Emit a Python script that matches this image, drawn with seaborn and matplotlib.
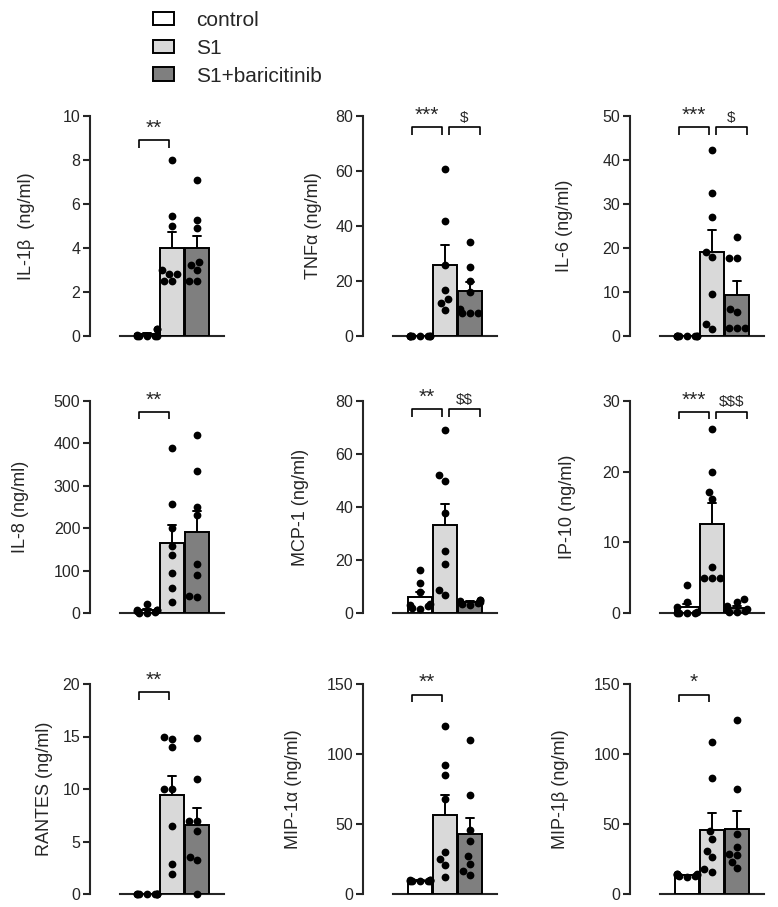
import numpy as np
import pandas as pd
import matplotlib
matplotlib.use("Agg")
import matplotlib.pyplot as plt
import seaborn as sns
from matplotlib.patches import Patch

groups = ["control", "S1", "S1+baricitinib"]
colors = ["#ffffff", "#d9d9d9", "#7f7f7f"]

# values per group: control, S1, S1+baricitinib
il1b = [[0.3, 0.3, 0.05, 0, 0, 0, 0, 0],
        [8.0, 5.47, 5.0, 3.0, 2.82, 2.82, 2.49, 2.49],
        [7.1, 5.28, 4.9, 3.35, 3.24, 3.0, 2.5, 2.5]]
tnfa = [[0, 0, 0, 0, 0, 0, 0, 0],
        [60.9, 41.9, 25.8, 16.7, 13.4, 11.9, 9.4],
        [34.3, 25.0, 20.0, 16.0, 10.0, 8.5, 8.5, 8.5]]
il6 = [[0, 0, 0, 0, 0, 0, 0, 0],
       [42.3, 32.5, 27.0, 19.2, 18.0, 9.6, 2.8, 1.5],
       [22.5, 17.8, 17.8, 6.2, 5.4, 1.9, 1.9, 1.9]]
il8 = [[22, 8, 8, 8, 5, 2, 0, 0],
       [390, 258, 200, 157, 136, 93.5, 60, 25],
       [420, 335, 250, 230, 116, 90, 41, 38]]
mcp1 = [[16.4, 11.5, 8.0, 3.5, 3.0, 2.5, 2.0, 1.5],
        [69.1, 51.9, 50.0, 37.7, 23.3, 18.5, 8.7, 6.9],
        [5.0, 4.8, 4.5, 4.2, 4.0, 3.8, 3.5, 3.2]]
ip10 = [[4.0, 1.6, 0.8, 0.1, 0, 0, 0, 0],
        [26.0, 20.0, 17.1, 16.1, 6.45, 5.0, 5.0, 5.0],
        [2.0, 1.5, 1.0, 0.6, 0.4, 0.3, 0.2, 0.1]]
rantes = [[0, 0, 0, 0, 0, 0, 0, 0],
          [15.0, 14.8, 14.0, 10.0, 10.0, 6.5, 2.9, 1.9],
          [14.9, 11.0, 7.0, 7.0, 6.0, 3.5, 3.2, 0]]
mip1a = [[10, 10, 9.8, 9.5, 9.5, 9.3, 9.2, 9.0],
         [119.7, 92, 85, 68, 30, 25.3, 20.8, 12],
         [110, 70.7, 46, 38.2, 27, 21.7, 16.2, 13.9]]
mip1b = [[14.5, 14, 14, 13.5, 13.5, 13, 13, 12.5],
         [108.7, 82.6, 44.9, 39.6, 31, 26.5, 17.9, 15.8],
         [124.4, 74.8, 43.2, 33.7, 28.9, 27.7, 22.9, 18.6]]

labels = ["IL-1β  (ng/ml)", "TNFα (ng/ml)", "IL-6 (ng/ml)",
          "IL-8 (ng/ml)", "MCP-1 (ng/ml)", "IP-10 (ng/ml)",
          "RANTES (ng/ml)", "MIP-1α (ng/ml)", "MIP-1β (ng/ml)"]
datasets = [il1b, tnfa, il6, il8, mcp1, ip10, rantes, mip1a, mip1b]
ymaxes = [10, 80, 50, 500, 80, 30, 20, 150, 150]
ysteps = [2, 20, 10, 100, 20, 10, 5, 50, 50]
stars = ["**", "***", "***", "**", "**", "***", "**", "**", "*"]
dollars = [None, "$", "$", None, "$$", "$$$", None, None, None]

sns.set_style("ticks")
plt.rcParams["font.family"] = ["Liberation Sans", "DejaVu Sans"]

W, H = 778, 907
fig = plt.figure(figsize=(W / 100, H / 100), dpi=100)

col_x = [90, 363, 630]
rows = [(116, 336), (401, 613), (684, 894)]
ax_w = 134
unit = 25.0  # px per bar slot
left_units = 57 / unit
label_right = [35, 322, 573, 29, 309, 576, 53, 302, 569]
bracket_frac = [0.89, 0.95, 0.95, 0.95, 0.96, 0.95, 0.96, 0.95, 0.95]


def bracket(ax, x0, x1, y, h, text, size):
    ax.plot([x0, x0, x1, x1], [y - h, y, y, y - h], color="black", lw=1.2,
            clip_on=False, solid_capstyle="butt")
    ax.text((x0 + x1) / 2, y + h * 0.3, text.replace("$", r"\$"), ha="center",
            va="bottom", fontsize=size, clip_on=False)


for i, vals in enumerate(datasets):
    r, c = divmod(i, 3)
    top, bot = rows[r]
    ax = fig.add_axes([col_x[c] / W, 1 - bot / H, ax_w / W, (bot - top) / H])
    df = pd.DataFrame({
        "group": np.repeat(groups, [len(v) for v in vals]),
        "value": np.concatenate(vals),
    })
    sns.barplot(data=df, x="group", y="value", hue="group", order=groups,
                hue_order=groups, palette=colors, errorbar="se", capsize=0.3,
                width=0.96, edgecolor="black", linewidth=1.4,
                err_kws={"color": "black", "linewidth": 1.4}, legend=False, ax=ax)
    for ln in ax.lines:
        ln.set_zorder(2)
    for p in ax.patches:
        p.set_zorder(3)
    sns.swarmplot(data=df, x="group", y="value", order=groups, color="black",
                  size=5.6, ax=ax, warn_thresh=1, clip_on=False, zorder=4)

    ymax = ymaxes[i]
    xr = (ax_w / unit) - left_units
    ax.set_xlim(-left_units, xr)
    ax.set_ylim(0, ymax)
    ax.set_yticks(np.arange(0, ymax + 1e-9, ysteps[i]))
    ax.set_xticks([])
    ax.set_xlabel("")
    ax.set_ylabel(labels[i], fontsize=13)
    ax.yaxis.set_label_coords((label_right[i] - col_x[c]) / ax_w, 0.5)
    sns.despine(ax=ax)
    ax.spines["bottom"].set_bounds(-left_units + 30 / unit, xr)
    for s in ("left", "bottom"):
        ax.spines[s].set_linewidth(1.5)
    ax.tick_params(axis="y", length=5, width=1.5, labelsize=11.5, pad=2)

    yb = bracket_frac[i] * ymax
    h = 0.035 * ymax
    bracket(ax, -0.33, 0.88, yb, h, stars[i], 15)
    if dollars[i]:
        bracket(ax, 1.15, 2.4, yb, h, dollars[i], 11)

handles = [Patch(facecolor=col, edgecolor="black", linewidth=1.4) for col in colors]
fig.legend(handles, groups, loc="upper left", bbox_to_anchor=(153 / W, 1 - 11 / H),
           frameon=False, fontsize=15, handlelength=1.0, handleheight=0.62,
           handletextpad=1.05, labelspacing=0.42, borderpad=0, borderaxespad=0)

fig.savefig("out.png", dpi=100)
